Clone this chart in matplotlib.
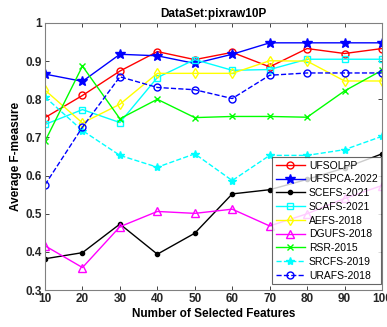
import matplotlib
matplotlib.use("Agg")
import matplotlib.pyplot as plt

plt.rcParams['font.family'] = ['Liberation Sans', 'DejaVu Sans']

features = [10, 20, 30, 40, 50, 60, 70, 80, 90, 100]

ufsolpp = [0.752, 0.810, 0.874, 0.925, 0.904, 0.923, 0.885, 0.933, 0.920, 0.933]
ufspca = [0.866, 0.847, 0.918, 0.914, 0.894, 0.918, 0.948, 0.948, 0.948, 0.948]
scefs = [0.382, 0.398, 0.473, 0.394, 0.449, 0.552, 0.563, 0.590, 0.620, 0.657]
scafs = [0.734, 0.773, 0.739, 0.857, 0.904, 0.876, 0.878, 0.905, 0.905, 0.905]
aefs = [0.824, 0.738, 0.787, 0.868, 0.868, 0.868, 0.901, 0.900, 0.848, 0.848]
dgufs = [0.416, 0.359, 0.466, 0.506, 0.501, 0.512, 0.468, 0.500, 0.540, 0.574]
rsr = [0.690, 0.887, 0.749, 0.800, 0.752, 0.755, 0.755, 0.753, 0.822, 0.876]
srcfs = [0.806, 0.718, 0.653, 0.622, 0.657, 0.587, 0.653, 0.653, 0.668, 0.703]
urafs = [0.576, 0.727, 0.859, 0.831, 0.825, 0.802, 0.863, 0.869, 0.869, 0.869]

# name, values, colour, line style, marker, marker size, filled
series = [
    ("UFSOLPP", ufsolpp, "#ff0000", "-", "o", 5, False),
    ("UFSPCA-2022", ufspca, "#0000ff", "-", "*", 7, True),
    ("SCEFS-2021", scefs, "#000000", "-", "o", 3, True),
    ("SCAFS-2021", scafs, "#00ffff", "-", "s", 4.5, False),
    ("AEFS-2018", aefs, "#ffff00", "-", "d", 5, False),
    ("DGUFS-2018", dgufs, "#ff00ff", "-", "^", 5.5, False),
    ("RSR-2015", rsr, "#00ff00", "-", "x", 4, True),
    ("SRCFS-2019", srcfs, "#00ffff", "--", "*", 6, True),
    ("URAFS-2018", urafs, "#0000ff", "--", "o", 5, False),
]

fig = plt.figure(figsize=(3.87, 3.27), dpi=100)
ax = fig.add_axes([0.1163, 0.113, 0.8708, 0.8167])

for name, vals, col, ls, mk, ms, filled in series:
    ax.plot(features, vals, color=col, linestyle=ls, marker=mk, markersize=ms,
            markerfacecolor=col if filled else "none",
            markeredgewidth=1.0, linewidth=1.0, label=name)

ax.set_xlim(10, 100)
ax.set_ylim(0.3, 1.0)
ax.set_xticks(features)
ax.set_yticks([0.3, 0.4, 0.5, 0.6, 0.7, 0.8, 0.9, 1.0])
ax.set_yticklabels(["0.3", "0.4", "0.5", "0.6", "0.7", "0.8", "0.9", "1"])
ax.tick_params(direction="in", length=3, width=0.6, top=True, right=True,
               labelsize=8.5, colors="#262626", pad=2)
for lab in ax.get_xticklabels() + ax.get_yticklabels():
    lab.set_fontweight("bold")
for sp in ax.spines.values():
    sp.set_color("#808080")
    sp.set_linewidth(0.8)

ax.set_title("DataSet:pixraw10P", fontsize=8.5, fontweight="bold", pad=4)
ax.set_xlabel("Number of Selected Features", fontsize=8.5, fontweight="bold", labelpad=2)
ax.set_ylabel("Average F-measure", fontsize=8.5, fontweight="bold", labelpad=3)

leg = ax.legend(loc="lower right", bbox_to_anchor=(0.998, 0.022),
                fontsize=7.5, frameon=True, fancybox=False,
                edgecolor="#404040", handlelength=2.8, handletextpad=0.4,
                labelspacing=0.36, borderaxespad=0.0, borderpad=0.35)
leg.get_frame().set_linewidth(0.8)

fig.savefig("out.png", dpi=100)
